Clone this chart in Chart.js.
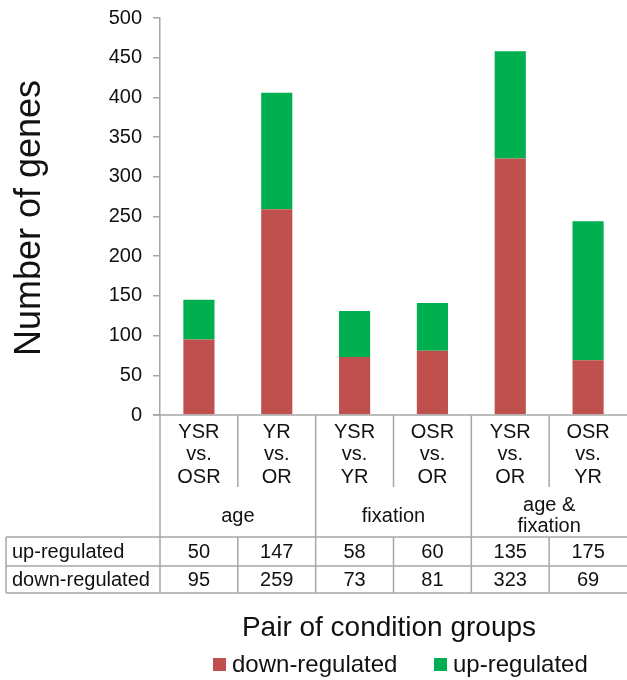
<!DOCTYPE html>
<html>
<head>
<meta charset="utf-8">
<script src="https://cdn.jsdelivr.net/npm/chart.js@4"></script>
<style>
  html, body { margin: 0; padding: 0; background: #fff; }
  #wrap { width: 627px; height: 680px; }
</style>
</head>
<body>
<div id="wrap"><canvas id="c" width="627" height="680"></canvas></div>
<script>
// ---- data ----
const categories = [
  ["YSR", "vs.", "OSR"],
  ["YR", "vs.", "OR"],
  ["YSR", "vs.", "YR"],
  ["OSR", "vs.", "OR"],
  ["YSR", "vs.", "OR"],
  ["OSR", "vs.", "YR"]
];
const groupLabels = [["age"], ["fixation"], ["age &", "fixation"]];
const groupSpans = [2, 2, 2];
const upRegulated = [50, 147, 58, 60, 135, 175];
const downRegulated = [95, 259, 73, 81, 323, 69];
const seriesNames = ["down-regulated", "up-regulated"];
const yTicks = { min: 0, max: 500, step: 50 };

const RED = "#C0504D";
const GREEN = "#00B050";
const GRID = "#a6a6a6";
const FONT = "'Liberation Sans', Arial, sans-serif";

const tablePlugin = {
  id: "tablePlugin",
  afterDraw(chart) {
    const ctx = chart.ctx;
    const ca = chart.chartArea;
    const n = categories.length;
    const colW = (ca.right - ca.left) / n;
    const bx = i => ca.left + i * colW;
    const yAxis = ca.bottom;
    const catBottom = 487, grpBottom = 537, row1Bottom = 566, row2Bottom = 593;
    const tableLeft = 6;

    ctx.save();
    ctx.strokeStyle = GRID;
    ctx.lineWidth = 1.5;
    const line = (x1, y1, x2, y2) => { ctx.beginPath(); ctx.moveTo(x1, y1); ctx.lineTo(x2, y2); ctx.stroke(); };

    // x axis line
    line(ca.left - 7, yAxis, ca.right, yAxis);
    // horizontal table lines
    line(tableLeft, grpBottom, ca.right, grpBottom);
    line(tableLeft, row1Bottom, ca.right, row1Bottom);
    line(tableLeft, row2Bottom, ca.right, row2Bottom);
    // left border
    line(tableLeft, grpBottom, tableLeft, row2Bottom);
    // vertical lines
    line(ca.left, yAxis, ca.left, row2Bottom);
    let acc = 0;
    const groupBounds = [0];
    groupSpans.forEach(s => { acc += s; groupBounds.push(acc); });
    for (let i = 1; i < n; i++) {
      if (groupBounds.includes(i)) {
        line(bx(i), yAxis, bx(i), row2Bottom);
      } else {
        line(bx(i), yAxis, bx(i), catBottom);
        line(bx(i), grpBottom, bx(i), row2Bottom);
      }
    }

    // texts
    ctx.fillStyle = "#111";
    ctx.font = "20px " + FONT;
    ctx.textAlign = "center";
    ctx.textBaseline = "middle";
    categories.forEach((lines, i) => {
      const cx = chart.scales.x.getPixelForValue(i);
      lines.forEach((t, j) => ctx.fillText(t, cx, 432 + j * 22.5));
    });
    groupLabels.forEach((lines, g) => {
      const cx = (bx(groupBounds[g]) + bx(groupBounds[g + 1])) / 2;
      const mid = 516;
      const h = 21;
      lines.forEach((t, j) => ctx.fillText(t, cx, mid - (lines.length - 1) * h / 2 + j * h));
    });
    // rows
    const rows = [["up-regulated", upRegulated], ["down-regulated", downRegulated]];
    const rowMid = [(grpBottom + row1Bottom) / 2 + 1, (row1Bottom + row2Bottom) / 2 + 1];
    rows.forEach((r, k) => {
      ctx.textAlign = "left";
      ctx.fillText(r[0], 12, rowMid[k]);
      ctx.textAlign = "center";
      r[1].forEach((v, i) => ctx.fillText(String(v), chart.scales.x.getPixelForValue(i), rowMid[k]));
    });

    // y title
    ctx.save();
    ctx.translate(30, 218);
    ctx.rotate(-Math.PI / 2);
    ctx.font = "36px " + FONT;
    ctx.textAlign = "center";
    ctx.fillText("Number of genes", 0, 0);
    ctx.restore();

    // x title
    ctx.font = "28px " + FONT;
    ctx.textAlign = "center";
    ctx.fillText("Pair of condition groups", 389, 628);

    // legend
    ctx.font = "24px " + FONT;
    ctx.textAlign = "left";
    const legColors = [RED, GREEN];
    const legX = [213, 434];
    seriesNames.forEach((name, k) => {
      ctx.fillStyle = legColors[k];
      ctx.fillRect(legX[k], 658, 13, 13);
      ctx.fillStyle = "#111";
      ctx.fillText(name, legX[k] + 19, 665);
    });
    ctx.restore();
  }
};

new Chart(document.getElementById("c"), {
  type: "bar",
  data: {
    labels: categories.map(c => c.join(" ")),
    datasets: [
      { label: seriesNames[0], data: downRegulated, backgroundColor: RED, stack: "s" },
      { label: seriesNames[1], data: upRegulated, backgroundColor: GREEN, stack: "s" }
    ]
  },
  options: {
    responsive: false,
    animation: false,
    devicePixelRatio: 1,
    layout: { padding: { top: 18, bottom: 265, left: 0, right: 0 } },
    datasets: { bar: { categoryPercentage: 1.0, barPercentage: 0.4 } },
    plugins: { legend: { display: false }, tooltip: { enabled: false } },
    scales: {
      x: { stacked: true, display: false },
      y: {
        stacked: true,
        min: yTicks.min,
        max: yTicks.max,
        ticks: { stepSize: yTicks.step, padding: 11, color: "#111", font: { size: 20, family: FONT } },
        grid: { drawOnChartArea: false, drawTicks: true, tickLength: 7, color: GRID, lineWidth: 1.5 },
        border: { color: GRID, width: 1.5 },
        afterFit(scale) { scale.width = 160; scale.paddingTop = 0; scale.paddingBottom = 0; }
      }
    }
  },
  plugins: [tablePlugin]
});
</script>
</body>
</html>
